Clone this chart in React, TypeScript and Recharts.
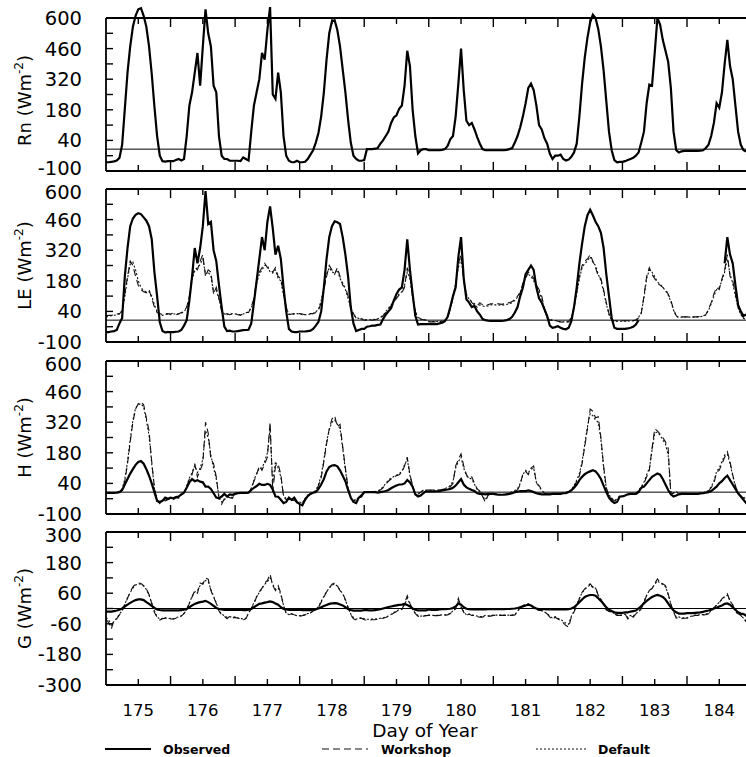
import { LineChart, Line, XAxis, YAxis, ReferenceLine } from 'recharts';

const N = null;

// time axis: day of year, hourly samples (label sits at local noon)
const DAYS = [175, 176, 177, 178, 179, 180, 181, 182, 183, 184];
const HOURS = [0, 1, 2, 3, 4, 5, 6, 7, 8, 9, 10, 11, 12, 13, 14, 15, 16, 17, 18, 19, 20, 21, 22, 23];
const X_TICKS = [175, 175.5, 176, 176.5, 177, 177.5, 178, 178.5, 179, 179.5, 180, 180.5, 181, 181.5, 182, 182.5, 183, 183.5, 184, 184.5];

const FLUX_TICKS = [-100, -30, 40, 110, 180, 250, 320, 390, 460, 530, 600];
const FLUX_LABELS = [-100, 40, 180, 320, 460, 600];
const G_TICKS = [-300, -240, -180, -120, -60, 0, 60, 120, 180, 240, 300];
const G_LABELS = [-300, -180, -60, 60, 180, 300];

// Net radiation, observed (one row per day, W m-2)
const RN_OBS = [
  [-60, -60, -58, -56, -52, -40, 20, 185, 350, 470, 560, 610, 640, 645, 610, 560, 470, 345, 195, 60, -30, -55, -57, -55],
  [-55, -55, -50, -45, -52, -45, 60, 200, 260, 350, 440, 290, 470, 640, 530, 470, 290, 260, 60, -30, -45, -45, -53, -53],
  [-53, -53, -55, -38, -45, -52, 80, 200, 260, 320, 440, 410, 545, 650, 250, 230, 350, 260, 60, -30, -53, -60, -60, -53],
  [-60, -60, -58, -45, -25, -5, 30, 75, 150, 260, 410, 530, 585, 590, 545, 470, 365, 260, 135, 30, -30, -45, -53, -53],
  [-50, 0, 0, 0, 2, 5, 25, 40, 60, 80, 120, 145, 155, 185, 200, 290, 450, 380, 180, 60, -20, -5, 0, 0],
  [-5, -5, -5, -5, -5, -3, 0, 15, 45, 60, 150, 300, 460, 270, 130, 110, 120, 90, 55, 25, 0, -5, -5, -5],
  [-5, -5, -5, -5, -5, -3, 0, 5, 30, 60, 100, 150, 210, 280, 300, 270, 200, 110, 90, 50, 25, -20, -45, -30],
  [-30, -25, -45, -52, -48, -35, -15, 25, 150, 300, 420, 510, 580, 615, 600, 550, 470, 360, 220, 80, -5, -50, -60, -58],
  [-58, -55, -50, -45, -40, -30, -15, 30, 80, 210, 295, 290, 440, 600, 570, 500, 450, 400, 280, 80, -5, -15, -10, -8],
  [-8, -8, -8, -8, -8, -7, -5, 5, 20, 60, 120, 210, 190, 260, 390, 500, 380, 320, 200, 80, 20, -5, -10, -10],
];

// Latent heat
const LE_OBS = [
  [-55, -55, -52, -50, -45, -15, 10, 200, 330, 430, 465, 482, 489, 485, 470, 455, 430, 370, 220, 110, -10, -50, -56, -55],
  [-55, -55, -53, -52, -45, -25, 0, 90, 200, 330, 260, 330, 430, 590, 440, 450, 320, 270, 160, 60, -30, -50, -48, -52],
  [-52, -50, -48, -46, -45, -44, -15, 80, 180, 280, 380, 320, 450, 520, 420, 300, 340, 280, 150, 40, -40, -52, -55, -55],
  [-52, -52, -52, -50, -48, -40, -25, -8, 40, 150, 280, 380, 430, 452, 448, 440, 380, 300, 200, 60, -15, -50, -45, -40],
  [-40, -30, -28, -25, -25, -22, -20, 5, 25, 40, 55, 90, 120, 140, 150, 230, 370, 230, 120, 20, -20, -18, -18, -18],
  [-18, -18, -18, -18, -15, -12, -5, 15, 60, 110, 150, 290, 380, 190, 95, 80, 60, 65, 40, 25, 5, 0, -2, -3],
  [-3, -3, -3, -3, -2, 0, 5, 15, 35, 60, 110, 150, 210, 230, 250, 230, 150, 100, 80, 50, 20, -25, -35, -32],
  [-28, -35, -40, -42, -35, -5, 60, 150, 260, 350, 430, 480, 505, 480, 450, 430, 400, 330, 210, 110, 10, -35, -40, -40],
  [-40, -40, -38, -35, -30, -20, 0, N, N, N, N, N, N, N, N, N, N, N, N, N, N, N, N, N],
  [N, N, N, N, N, N, N, N, N, N, N, N, N, N, 260, 380, 300, 260, 160, 70, 40, 20, 25, 25],
];
const LE_WS = [
  [20, 22, 22, 25, 28, 30, 40, 120, 200, 270, 250, 200, 160, 140, 130, 125, 140, 100, 60, 35, 30, 25, 28, 30],
  [28, 32, 25, 28, 35, 40, 60, 110, 200, 240, 230, 270, 300, 200, 230, 220, 120, 150, 100, 40, 25, 30, 25, 28],
  [30, 25, 22, 30, 35, 35, 60, 100, 180, 220, 240, 260, 240, 230, 220, 240, 200, 190, 120, 60, 25, 28, 30, 32],
  [30, 28, 25, 28, 30, 30, 35, 45, 80, 140, 200, 250, 230, 210, 240, 200, 160, 150, 110, 60, 30, 10, 5, 5],
  [0, 0, 0, 0, 2, 5, 10, 20, 35, 50, 65, 80, 100, 115, 125, 150, 240, 200, 110, 40, 15, 5, 2, 2],
  [-8, -8, -8, -8, -6, -5, -3, 10, 50, 100, 160, 260, 300, 180, 110, 100, 80, 70, 65, 80, 70, 65, 70, 75],
  [75, 75, 75, 72, 75, 78, 80, 85, 95, 110, 125, 170, 190, 220, 210, 190, 160, 140, 110, 50, 10, 0, 0, 0],
  [-5, -8, -10, -10, -8, 10, 60, 130, 200, 250, 270, 280, 300, 270, 240, 200, 190, 140, 80, 30, 0, -3, -3, -5],
  [-3, -3, -3, -3, -2, 0, 10, 30, 110, 200, 240, 210, 190, 170, 160, 150, 140, 120, 90, 50, 20, 10, 15, 15],
  [15, 15, 15, 15, 15, 18, 20, 25, 50, 80, 120, 150, 140, 190, 230, 300, 200, 180, 120, 60, 30, 10, 0, 0],
];
const LE_DEF = [
  [15, 18, 20, 22, 25, 28, 45, 110, 190, 255, 265, 230, 180, 150, 135, 130, 130, 110, 70, 40, 28, 22, 25, 28],
  [25, 28, 28, 30, 32, 38, 55, 100, 185, 225, 240, 255, 280, 210, 220, 200, 130, 140, 95, 45, 28, 25, 28, 30],
  [28, 28, 25, 28, 32, 38, 55, 95, 170, 210, 230, 250, 250, 220, 215, 230, 190, 180, 115, 55, 28, 25, 28, 30],
  [28, 25, 25, 25, 28, 30, 38, 50, 90, 150, 210, 240, 220, 215, 230, 190, 170, 140, 100, 55, 25, 12, 8, 6],
  [2, 2, 2, 2, 4, 6, 12, 22, 38, 55, 70, 85, 105, 120, 130, 160, 220, 190, 100, 35, 12, 4, 2, 0],
  [-6, -6, -6, -6, -5, -4, 0, 12, 55, 105, 170, 240, 280, 190, 120, 95, 85, 75, 60, 70, 65, 62, 65, 70],
  [70, 70, 70, 68, 70, 72, 75, 80, 90, 105, 130, 160, 200, 210, 200, 180, 150, 130, 100, 45, 12, 2, 0, -2],
  [-6, -8, -8, -8, -6, 12, 55, 120, 190, 240, 260, 270, 290, 265, 250, 210, 180, 130, 75, 25, -2, -5, -5, -5],
  [-5, -5, -4, -4, -3, 0, 12, 35, 100, 190, 230, 220, 200, 175, 165, 150, 135, 115, 85, 45, 18, 12, 14, 15],
  [14, 14, 14, 14, 15, 16, 18, 24, 45, 75, 110, 140, 150, 180, 220, 280, 210, 170, 110, 55, 25, 8, 2, 0],
];

// Sensible heat
const H_OBS = [
  [-3, -3, -3, -3, -2, 0, 10, 35, 60, 85, 105, 125, 138, 142, 130, 105, 75, 40, 0, -40, -45, -40, -25, -30],
  [-25, -28, -22, -20, -10, -2, 20, 45, 60, 50, 55, 48, 45, 25, 25, 15, -5, -25, -28, -20, -8, -20, -10, -12],
  [-8, -5, -3, -3, -3, -2, 10, 20, 28, 38, 33, 33, 38, 33, 12, -20, -21, -35, -50, -45, -25, -35, -25, -45],
  [-55, -60, -35, -18, -8, -3, 0, 15, 35, 60, 95, 115, 122, 124, 118, 100, 75, 50, 10, -25, -45, -50, -25, -15],
  [0, 0, 0, 0, 0, -2, 0, 2, 5, 10, 18, 25, 30, 35, 35, 40, 55, 45, 25, -10, -20, -15, -5, 5],
  [3, 3, 3, 4, 5, 8, 10, 12, 15, 20, 30, 45, 60, 35, 22, 15, 10, 5, -5, -8, -8, -10, -8, -8],
  [-8, -10, -12, -12, -12, -10, -8, -5, 0, 2, 5, 5, 5, 8, 5, 0, -5, -8, -10, -10, -10, -10, -8, -8],
  [-8, -8, -5, -5, 0, 8, 20, 35, 55, 70, 82, 90, 95, 100, 95, 80, 60, 30, 0, -25, -40, -50, -45, -20],
  [-20, -15, -10, -8, -8, -8, 0, 20, 25, 40, 55, 70, 78, 85, 80, 60, 35, 10, -10, -20, -15, -10, -8, -8],
  [-8, -8, -8, -8, -8, -6, -5, -2, 0, 5, 15, 25, 40, 50, 65, 75, 55, 35, 15, -5, -20, -35, -50, -55],
];
const H_WS = [
  [-3, -3, -3, -3, -2, 0, 10, 50, 130, 230, 320, 380, 405, 413, 400, 340, 280, 140, 20, -40, -52, -30, -40, -35],
  [-30, -35, -25, -28, -15, -5, 25, 60, 80, 130, 70, 100, 130, 320, 270, 150, 130, 70, -30, -55, -30, -20, -25, -28],
  [-5, -3, -3, -3, -3, -2, 15, 50, 80, 120, 100, 130, 160, 320, 0, 120, 130, 80, -20, -35, -30, -40, -35, -50],
  [-50, -55, -30, -15, -8, -3, 5, 30, 65, 140, 220, 290, 335, 350, 300, 310, 210, 110, 20, -30, -40, -35, -25, -22],
  [-2, -2, 0, 0, 2, 5, 10, 20, 35, 50, 60, 70, 75, 80, 90, 120, 160, 80, 30, -15, -10, 0, 10, 10],
  [10, 10, 10, 10, 10, 12, 15, 20, 25, 40, 120, 150, 175, 120, 80, 60, 70, 40, 15, 5, -20, -45, -15, -8],
  [-8, -10, -12, -12, -10, -8, -5, 0, 5, 10, 35, 85, 95, 80, 110, 120, 40, 30, 10, -5, -8, -8, -8, -8],
  [-8, -8, -5, -2, 2, 10, 25, 50, 75, 130, 210, 290, 380, 370, 340, 345, 250, 120, 20, -15, -30, -40, -35, -20],
  [-20, -15, -10, -8, -8, -5, 5, 20, 40, 70, 100, 200, 290, 280, 265, 250, 230, 200, -10, -5, 5, -10, -5, -5],
  [-8, -8, -8, -8, -8, -6, -5, 0, 5, 20, 40, 90, 100, 130, 160, 185, 140, 80, 30, -5, -20, -25, -40, -50],
];
const H_DEF = [
  [-2, -2, -2, -2, -1, 2, 15, 60, 140, 240, 330, 385, 400, 405, 390, 330, 260, 130, 15, -35, -48, -35, -38, -32],
  [-28, -30, -28, -25, -12, -2, 28, 65, 90, 120, 90, 110, 150, 280, 250, 170, 110, 60, -20, -45, -35, -22, -22, -25],
  [-5, -4, -3, -3, -3, -1, 18, 55, 85, 110, 110, 140, 180, 290, 40, 140, 110, 70, -15, -30, -32, -38, -38, -45],
  [-45, -50, -28, -14, -7, -2, 8, 35, 75, 150, 230, 285, 320, 330, 310, 290, 200, 100, 15, -28, -38, -32, -24, -20],
  [-2, -1, 0, 1, 3, 6, 12, 24, 40, 55, 65, 72, 78, 85, 95, 125, 150, 75, 25, -12, -8, 2, 8, 10],
  [8, 8, 8, 9, 10, 12, 16, 22, 30, 50, 110, 140, 160, 110, 75, 65, 60, 35, 12, 2, -18, -35, -12, -8],
  [-8, -9, -10, -10, -9, -7, -4, 2, 8, 15, 40, 80, 100, 90, 105, 110, 45, 25, 8, -4, -8, -8, -8, -8],
  [-8, -7, -4, -1, 3, 12, 30, 55, 85, 140, 220, 300, 360, 350, 330, 320, 240, 110, 15, -12, -28, -38, -32, -18],
  [-18, -14, -10, -8, -7, -4, 8, 25, 45, 80, 110, 190, 270, 275, 260, 240, 220, 170, -5, -4, 3, -8, -5, -5],
  [-7, -7, -7, -7, -7, -5, -3, 2, 8, 25, 50, 95, 110, 140, 170, 175, 130, 75, 25, -5, -18, -22, -35, -45],
];

// Ground heat
const G_OBS = [
  [-12, -12, -12, -10, -8, -5, 0, 8, 15, 22, 28, 33, 36, 36, 33, 25, 18, 10, 2, -4, -6, -7, -7, -7],
  [-7, -7, -7, -7, -6, -5, -2, 5, 12, 18, 22, 25, 27, 30, 25, 18, 10, 2, -2, -4, -5, -5, -5, -5],
  [-5, -5, -5, -6, -6, -5, -2, 5, 12, 18, 20, 23, 25, 28, 25, 20, 15, 5, -2, -4, -5, -5, -5, -5],
  [-5, -6, -6, -6, -6, -5, -3, 0, 5, 10, 14, 18, 20, 21, 20, 16, 12, 5, -2, -6, -8, -8, -8, -8],
  [-6, -6, -7, -7, -6, -5, -3, 0, 3, 6, 8, 10, 12, 14, 15, 18, 14, 8, 0, -5, -7, -7, -7, -7],
  [-4, -5, -5, -5, -4, -3, -3, -2, -1, 2, 8, 20, 15, 5, -1, -3, -4, -4, -4, -4, -4, -4, -3, -3],
  [-3, -3, -3, -3, -3, -2, -2, -1, 0, 2, 5, 8, 12, 15, 12, 5, 0, -2, -3, -3, -4, -4, -4, -4],
  [-4, -4, -4, -4, -3, 0, 5, 15, 25, 35, 45, 50, 53, 53, 50, 40, 30, 18, 5, -5, -10, -15, -17, -17],
  [-17, -15, -15, -12, -10, -8, 0, 10, 20, 30, 38, 45, 50, 53, 50, 45, 35, 20, 5, -8, -15, -20, -20, -20],
  [-18, -18, -18, -17, -16, -15, -13, -10, -8, -5, 0, 3, 8, 12, 18, 20, 15, 5, -5, -15, -20, -22, -28, -30],
];
const G_WS = [
  [-44, -55, -80, -45, -40, -25, -10, 15, 40, 65, 85, 95, 100, 98, 90, 78, 55, 20, -15, -35, -45, -40, -38, -42],
  [-40, -42, -38, -35, -30, -20, -5, 20, 45, 70, 60, 100, 95, 120, 115, 70, 45, 20, -10, -25, -30, -40, -30, -38],
  [-35, -38, -40, -45, -40, -20, 0, 20, 45, 65, 80, 100, 110, 135, 90, 70, 90, 60, 10, -20, -25, -20, -25, -30],
  [-30, -28, -25, -20, -18, -10, -5, 5, 25, 45, 65, 80, 95, 100, 90, 70, 60, 35, 5, -25, -40, -45, -40, -38],
  [-44, -45, -45, -44, -44, -42, -40, -38, -35, -31, -25, -18, -12, -5, -4, 20, 50, 20, -5, -20, -30, -32, -30, -28],
  [-27, -27, -28, -28, -27, -26, -26, -25, -20, -10, -2, 40, 5, -15, -27, -22, -27, -28, -32, -34, -34, -28, -30, -30],
  [-27, -27, -27, -27, -27, -27, -27, -27, -25, -14, 5, 12, 14, 18, 12, -1, -1, -8, -8, -14, -21, -34, -43, -34],
  [-41, -47, -56, -67, -73, -34, -14, 12, 38, 64, 77, 88, 97, 84, 84, 51, 35, 14, -5, -12, -14, -21, -27, -27],
  [-27, -21, -41, -27, -34, -21, -15, -1, 25, 51, 71, 78, 97, 116, 103, 97, 90, 57, 18, -14, -38, -35, -40, -38],
  [-38, -34, -30, -27, -27, -25, -25, -24, -21, -9, 3, 12, 22, 38, 48, 58, 31, 14, -14, -21, -27, -41, -51, -60],
];
const G_DEF = [
  [-35, -45, -65, -50, -38, -22, -8, 18, 42, 62, 80, 92, 96, 95, 88, 75, 52, 22, -10, -32, -42, -38, -36, -40],
  [-38, -40, -36, -33, -28, -18, -3, 22, 48, 65, 70, 90, 100, 110, 105, 75, 48, 22, -8, -22, -28, -35, -32, -35],
  [-33, -36, -38, -42, -38, -18, 2, 22, 48, 62, 78, 95, 105, 120, 95, 75, 80, 55, 12, -18, -24, -22, -24, -28],
  [-28, -27, -24, -20, -17, -10, -4, 8, 28, 48, 66, 80, 92, 96, 88, 72, 58, 32, 4, -22, -36, -42, -38, -36],
  [-40, -42, -42, -41, -41, -40, -38, -36, -33, -29, -23, -16, -10, -4, -2, 15, 40, 18, -4, -18, -28, -30, -29, -27],
  [-26, -26, -27, -27, -26, -25, -25, -24, -19, -9, 0, 30, 6, -12, -25, -22, -26, -27, -30, -32, -32, -27, -29, -29],
  [-26, -26, -26, -26, -26, -26, -26, -26, -23, -12, 6, 13, 15, 17, 11, 0, -2, -8, -9, -14, -20, -30, -38, -32],
  [-38, -43, -50, -58, -62, -30, -10, 15, 40, 62, 75, 85, 92, 82, 80, 52, 36, 15, -4, -11, -14, -20, -25, -26],
  [-26, -22, -36, -27, -30, -20, -12, 2, 28, 52, 70, 80, 95, 108, 100, 94, 86, 55, 18, -12, -34, -33, -37, -36],
  [-36, -32, -29, -26, -26, -24, -24, -22, -19, -8, 4, 14, 24, 36, 46, 52, 30, 14, -12, -20, -26, -38, -48, -56],
];

type Grid = (number | null)[][];
type Row = { x: number; obs: number | null; ws: number | null; def: number | null };

function buildRows(obs: Grid, ws?: Grid, def?: Grid): Row[] {
  const rows: Row[] = [];
  DAYS.forEach((day, i) => {
    HOURS.forEach((h, j) => {
      rows.push({
        x: day + (h - 12) / 24,
        obs: obs[i][j],
        ws: ws ? ws[i][j] : null,
        def: def ? def[i][j] : null,
      });
    });
  });
  return rows;
}

const FONT = 'DejaVu Sans';

function XTick(props: any) {
  const { x, y, payload, side, showLabel } = props;
  const v = payload.value as number;
  const midnight = v % 1 !== 0;
  const len = midnight ? 9 : 6;
  const dir = side === 'top' ? 1 : -1;
  return (
    <g>
      <line x1={x} y1={y} x2={x} y2={y + dir * len} stroke="#000" strokeWidth={1.4} />
      {showLabel && !midnight && (
        <text x={x} y={y + 31} textAnchor="middle" fontSize={16.5} fontFamily={FONT} fill="#000">
          {v}
        </text>
      )}
    </g>
  );
}

function YTick(props: any) {
  const { x, y, payload, labels, lo, hi } = props;
  const v = payload.value as number;
  // end labels of stacked panels sit close together; nudge them apart a little
  const nudge = v === lo ? -3 : v === hi ? 3 : 0;
  return (
    <g>
      <line x1={x} y1={y} x2={x + 7} y2={y} stroke="#000" strokeWidth={1.4} />
      {labels.includes(v) && (
        <text x={x - 24} y={y + nudge} dy="0.36em" textAnchor="end" fontSize={19.5} fontFamily={FONT} fill="#000">
          {v}
        </text>
      )}
    </g>
  );
}

function YTitle({ name, shift = 0 }: any) {
  const cy = 96.5 + shift;
  return (
    <text transform={`translate(31, ${cy}) rotate(-90)`} textAnchor="middle" fontSize={18} fontFamily={FONT} fill="#000">
      {name} (Wm<tspan fontSize={12} dy={-8}>-2</tspan>
      <tspan dy={8}>)</tspan>
    </text>
  );
}

function XTitle() {
  return (
    <text x={425} y={225} textAnchor="middle" fontSize={18.5} fontFamily={FONT} fill="#000">
      Day of Year
    </text>
  );
}

interface PanelProps {
  top: number;
  name: string;
  rows: Row[];
  domain: [number, number];
  ticks: number[];
  labels: number[];
  last?: boolean;
  models?: boolean;
  shift?: number;
}

function Panel({ top, name, rows, domain, ticks, labels, last, models, shift }: PanelProps) {
  const frame = { stroke: '#000', strokeWidth: 1.8 };
  return (
    <div className="flux-panel" style={{ position: 'absolute', left: 0, top: top - 20 }}>
      <LineChart width={760} height={233} data={rows} margin={{ top: 0, right: 2, bottom: 0, left: 0 }}>
        <XAxis
          xAxisId="b"
          type="number"
          dataKey="x"
          domain={[174.5, 184.6]}
          allowDataOverflow
          ticks={X_TICKS}
          interval={0}
          orientation="bottom"
          height={60}
          tickSize={0}
          tickMargin={0}
          tickLine={false}
          axisLine={frame}
          tick={<XTick side="bottom" showLabel={!!last} />}
          label={last ? <XTitle /> : undefined}
        />
        <XAxis
          xAxisId="t"
          type="number"
          dataKey="x"
          domain={[174.5, 184.6]}
          allowDataOverflow
          ticks={X_TICKS}
          interval={0}
          orientation="top"
          height={20}
          tickSize={0}
          tickMargin={0}
          tickLine={false}
          axisLine={frame}
          tick={<XTick side="top" showLabel={false} />}
        />
        <YAxis
          type="number"
          domain={domain}
          allowDataOverflow
          ticks={ticks}
          interval={0}
          width={106}
          tickSize={0}
          tickMargin={0}
          tickLine={false}
          axisLine={frame}
          tick={<YTick labels={labels} lo={top > 20 ? null : domain[0]} hi={top > 20 ? domain[1] : null} />}
          label={<YTitle name={name} shift={shift} />}
        />
        <ReferenceLine xAxisId="b" y={0} stroke="#000" strokeWidth={1} />
        {models && (
          <Line xAxisId="b" type="linear" dataKey="ws" stroke="#111" strokeWidth={1.1} strokeDasharray="7 4" dot={false} activeDot={false} isAnimationActive={false} />
        )}
        {models && (
          <Line xAxisId="b" type="linear" dataKey="def" stroke="#111" strokeWidth={1.1} strokeDasharray="2 2" dot={false} activeDot={false} isAnimationActive={false} />
        )}
        <Line xAxisId="b" type="linear" dataKey="obs" stroke="#000" strokeWidth={2.2} dot={false} activeDot={false} isAnimationActive={false} />
      </LineChart>
    </div>
  );
}

function LegendRow() {
  const txt = { fontSize: 12.5, fontWeight: 700, fontFamily: FONT, fill: '#000' } as const;
  return (
    <svg width={746} height={21} style={{ position: 'absolute', left: 0, top: 736 }}>
      <line x1={105} x2={151} y1={13} y2={13} stroke="#000" strokeWidth={2} />
      <text x={163} y={18} {...txt}>Observed</text>
      <line x1={322} x2={368} y1={13} y2={13} stroke="#111" strokeWidth={1.1} strokeDasharray="7 4" />
      <text x={381} y={18} {...txt}>Workshop</text>
      <line x1={536} x2={588} y1={13} y2={13} stroke="#111" strokeWidth={1.1} strokeDasharray="2 2" />
      <text x={598} y={18} {...txt}>Default</text>
    </svg>
  );
}

export default function App() {
  const rn = buildRows(RN_OBS);
  const le = buildRows(LE_OBS, LE_WS, LE_DEF);
  const h = buildRows(H_OBS, H_WS, H_DEF);
  const g = buildRows(G_OBS, G_WS, G_DEF);
  return (
    <div style={{ position: 'absolute', left: 0, top: 0, width: 746, height: 757, overflow: 'hidden', background: '#fff' }}>
      <style>{`body{overflow:hidden}.flux-panel svg *{clip-path:none !important}`}</style>
      <Panel top={18} name="Rn" rows={rn} domain={[-100, 600]} ticks={FLUX_TICKS} labels={FLUX_LABELS} shift={6} />
      <Panel top={189} name="LE" rows={le} domain={[-100, 600]} ticks={FLUX_TICKS} labels={FLUX_LABELS} models />
      <Panel top={361} name="H" rows={h} domain={[-100, 600]} ticks={FLUX_TICKS} labels={FLUX_LABELS} models />
      <Panel top={532} name="G" rows={g} domain={[-300, 300]} ticks={G_TICKS} labels={G_LABELS} models last />
      <LegendRow />
    </div>
  );
}
